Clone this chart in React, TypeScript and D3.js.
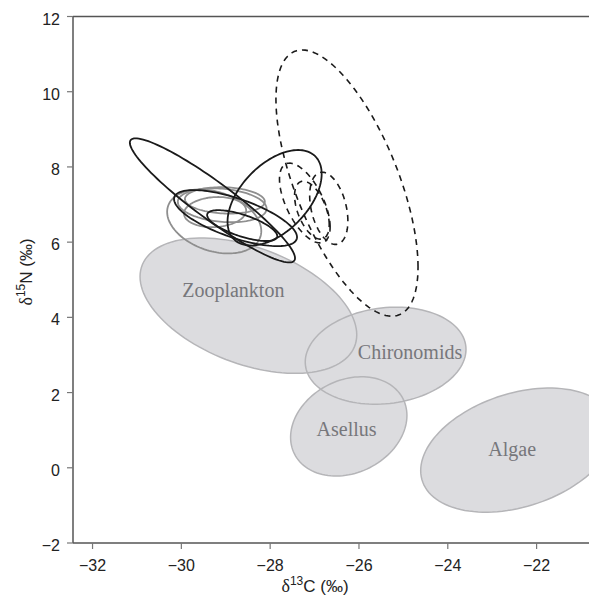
import React from 'react'
import * as d3 from 'd3'

// source (food) ellipses, filled grey
const sourceNames = ['Zooplankton', 'Chironomids', 'Asellus', 'Algae']
const sourceCx = [-28.49, -25.4, -26.23, -22.43]
const sourceCy = [4.31, 2.98, 1.1, 0.47]
const sourceWx = [2.44, 1.81, 1.31, 2.18]
const sourceWy = [1.8, 1.29, 1.32, 1.65]
const sourceRho = [-0.43, 0.13, 0.22, 0.33]
const labelX = [-28.83, -24.85, -26.28, -22.55]
const labelY = [4.54, 2.88, 0.85, 0.32]

// consumer ellipses: solid black, solid grey, dashed
const blackCx = [-29.3, -28.78, -28.63, -27.9]
const blackCy = [7.11, 6.64, 6.44, 7.18]
const blackWx = [1.86, 1.385, 0.79, 1.06]
const blackWy = [1.65, 0.745, 0.41, 1.27]
const blackRho = [-0.93, -0.68, -0.68, 0.5]

const greyCx = [-29.26, -29.08, -29.02, -29.24]
const greyCy = [6.55, 6.98, 7.11, 6.8]
const greyWx = [1.06, 1.0, 0.9, 0.7]
const greyWy = [0.85, 0.45, 0.35, 0.4]
const greyRho = [-0.3, -0.2, -0.1, 0.1]

const dashCx = [-26.27, -27.22, -26.68, -27.06]
const dashCy = [7.57, 7.04, 6.9, 6.85]
const dashWx = [1.6, 0.57, 0.43, 0.39]
const dashWy = [3.54, 1.06, 0.96, 0.77]
const dashRho = [-0.63, -0.6, -0.35, -0.5]

const xTicks = [-32, -30, -28, -26, -24, -22]
const yTicks = [-2, 0, 2, 4, 6, 8, 10, 12]

const W = 589
const H = 597

const x = d3.scaleLinear().domain([-32.44, -20.82]).range([73, 589])
const y = d3.scaleLinear().domain([-2, 12]).range([543, 16.5])

// ellipse with given bounding half-widths and correlation
const ellipsePath = (cx: number, cy: number, wx: number, wy: number, rho: number) => {
  const pts: [number, number][] = d3.range(0, 120).map(i => {
    const t = (i / 120) * Math.PI * 2
    const dx = wx * Math.cos(t)
    const dy = wy * (rho * Math.cos(t) + Math.sqrt(1 - rho * rho) * Math.sin(t))
    return [x(cx + dx), y(cy + dy)]
  })
  return d3.line().curve(d3.curveLinearClosed)(pts) || ''
}

const App = () => {
  const [x0, x1] = x.range()
  const [y0, y1] = y.range()
  return (
    <svg width={W} height={H} style={{ position: 'absolute', left: 0, top: 0, background: '#fff' }}>
      {/* filled sources */}
      {sourceNames.map((n, i) => (
        <path key={'f' + n} d={ellipsePath(sourceCx[i], sourceCy[i], sourceWx[i], sourceWy[i], sourceRho[i])}
          fill="#dcdcdf" stroke="none" />
      ))}
      {sourceNames.map((n, i) => (
        <path key={'s' + n} d={ellipsePath(sourceCx[i], sourceCy[i], sourceWx[i], sourceWy[i], sourceRho[i])}
          fill="none" stroke="#b5b5b8" strokeWidth={1.5} />
      ))}
      {sourceNames.map((n, i) => (
        <text key={'l' + n} x={x(labelX[i])} y={y(labelY[i])} textAnchor="middle"
          fontFamily="'Liberation Serif', 'Times New Roman', serif" fontSize={20} fill="#77777b">{n}</text>
      ))}

      {greyCx.map((c, i) => (
        <path key={'g' + i} d={ellipsePath(c, greyCy[i], greyWx[i], greyWy[i], greyRho[i])}
          fill="none" stroke="#8f8f8f" strokeWidth={1.8} />
      ))}
      {dashCx.map((c, i) => (
        <path key={'d' + i} d={ellipsePath(c, dashCy[i], dashWx[i], dashWy[i], dashRho[i])}
          fill="none" stroke="#1a1a1a" strokeWidth={1.6} strokeDasharray="6,5" />
      ))}
      {blackCx.map((c, i) => (
        <path key={'b' + i} d={ellipsePath(c, blackCy[i], blackWx[i], blackWy[i], blackRho[i])}
          fill="none" stroke="#1a1a1a" strokeWidth={1.8} />
      ))}

      {/* axes */}
      <g stroke="#555" strokeWidth={1.5} fill="none">
        <line x1={x0} x2={x1} y1={y0} y2={y0} />
        <line x1={x0} x2={x1} y1={y1} y2={y1} />
        <line x1={x0} x2={x0} y1={y0} y2={y1} />
      </g>
      {yTicks.map(t => (
        <g key={'yt' + t}>
          <line x1={x0 - 6} x2={x0} y1={y(t)} y2={y(t)} stroke="#777" strokeWidth={1.2} />
          <text x={x0 - 13} y={y(t) + 8} textAnchor="end" fontFamily="'Liberation Sans', Arial, sans-serif"
            fontSize={16} fill="#222">{t < 0 ? '\u2212' + Math.abs(t) : t}</text>
        </g>
      ))}
      {xTicks.map(t => (
        <g key={'xt' + t}>
          <line x1={x(t)} x2={x(t)} y1={y0} y2={y0 + 6} stroke="#777" strokeWidth={1.2} />
          <text x={x(t)} y={y0 + 28} textAnchor="middle" fontFamily="'Liberation Sans', Arial, sans-serif"
            fontSize={16} fill="#222">{'\u2212' + Math.abs(t)}</text>
        </g>
      ))}
      <text x={315} y={592} textAnchor="middle" fontFamily="'Liberation Sans', Arial, sans-serif" fontSize={17} fill="#222">
        <tspan fontFamily="'Liberation Serif', serif" fontSize={18}>δ</tspan>
        <tspan fontSize={12} dy={-7}>13</tspan>
        <tspan dy={7}>C (‰)</tspan>
      </text>
      <text transform={`translate(32,272) rotate(-90)`} textAnchor="middle" fontFamily="'Liberation Sans', Arial, sans-serif" fontSize={17} fill="#222">
        <tspan fontFamily="'Liberation Serif', serif" fontSize={18}>δ</tspan>
        <tspan fontSize={12} dy={-7}>15</tspan>
        <tspan dy={7}>N (‰)</tspan>
      </text>
    </svg>
  )
}

export default App
